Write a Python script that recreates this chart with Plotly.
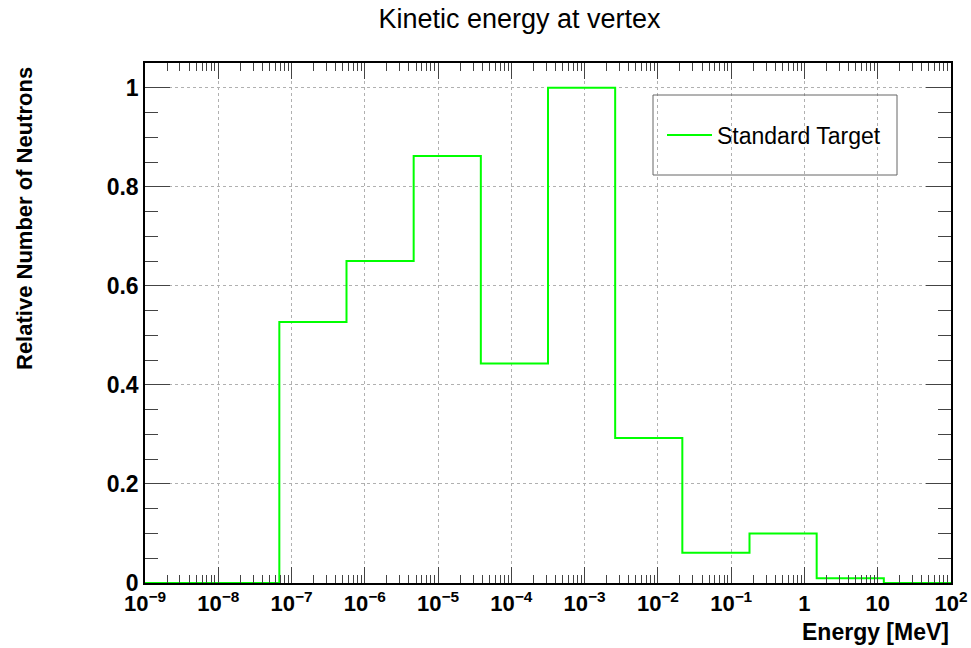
import numpy as np
import plotly.graph_objects as go

# Histogram: 12 logarithmic bins from 1e-9 to 1e2 MeV
bin_edges = np.logspace(-9, 2, 13)
rel_counts = [0.0, 0.0, 0.527, 0.650, 0.862, 0.443, 1.0, 0.293, 0.061, 0.100, 0.0095, 0.0]
series_name = "Standard Target"

x_tickvals = [1e-9, 1e-8, 1e-7, 1e-6, 1e-5, 1e-4, 1e-3, 1e-2, 1e-1, 1, 10, 100]
x_ticktext = ["10<sup>−9</sup>", "10<sup>−8</sup>", "10<sup>−7</sup>", "10<sup>−6</sup>",
              "10<sup>−5</sup>", "10<sup>−4</sup>", "10<sup>−3</sup>", "10<sup>−2</sup>",
              "10<sup>−1</sup>", "1", "10", "10<sup>2</sup>"]
y_tickvals = [0, 0.2, 0.4, 0.6, 0.8, 1.0]
y_ticktext = ["0", "0.2", "0.4", "0.6", "0.8", "1"]

FONT = "Liberation Sans, Arial, Helvetica, sans-serif"

fig = go.Figure()
fig.add_trace(go.Scatter(
    x=list(bin_edges), y=rel_counts + [rel_counts[-1]],
    mode="lines", line=dict(color="#00ff00", width=2, shape="hv"),
    name=series_name, showlegend=True,
))

fig.update_layout(
    width=971, height=648,
    margin=dict(l=145, r=20, t=63, b=65),
    paper_bgcolor="white", plot_bgcolor="white",
    font=dict(family=FONT, color="black"),
    title=dict(text="Kinetic energy at vertex", x=0.535, xanchor="center",
               y=0.972, yanchor="middle", font=dict(size=27, family=FONT)),
    showlegend=True,
    legend=dict(x=(662 - 145) / 806, y=(583 - 135) / 520, xanchor="left", yanchor="middle",
                bgcolor="rgba(0,0,0,0)", borderwidth=0, itemwidth=45,
                font=dict(size=23, family=FONT)),
)

fig.add_shape(type="rect", xref="paper", yref="paper",
              x0=(653 - 145) / 806, x1=(897 - 145) / 806,
              y0=(583 - 175) / 520, y1=(583 - 95) / 520,
              line=dict(color="#666666", width=1), fillcolor="rgba(0,0,0,0)", layer="above")

fig.update_xaxes(
    type="log", range=[-9, 2], automargin=False,
    tickvals=x_tickvals, ticktext=x_ticktext,
    tickfont=dict(size=22, family=FONT, weight="bold"),
    showline=True, linecolor="black", linewidth=1.5, mirror="allticks",
    ticks="inside", ticklen=16, tickcolor="#444444", tickwidth=1,
    showgrid=True, gridcolor="#b0b0b0", griddash="dot", gridwidth=1,
    zeroline=False,
    minor=dict(ticks="inside", ticklen=8, tickcolor="#444444", dtick="D1", showgrid=False),
)
fig.update_yaxes(
    range=[0, 1.05], automargin=False,
    tickvals=y_tickvals, ticktext=y_ticktext,
    tickfont=dict(size=23, family=FONT, weight="bold"),
    showline=True, linecolor="black", linewidth=1.5, mirror="allticks",
    ticks="inside", ticklen=25, tickcolor="#444444", tickwidth=1,
    showgrid=True, gridcolor="#b0b0b0", griddash="dot", gridwidth=1,
    zeroline=False,
    minor=dict(ticks="inside", ticklen=13, tickcolor="#444444", dtick=0.05, showgrid=False),
)

fig.add_annotation(text="<b>Relative Number of Neutrons</b>", xref="paper", yref="paper",
                   x=-(145 - 24) / 806, y=(583 - 219) / 520, textangle=-90,
                   showarrow=False, font=dict(size=22, family=FONT),
                   xanchor="center", yanchor="middle")
fig.add_annotation(text="<b>Energy [MeV]</b>", xref="paper", yref="paper",
                   x=1.0, y=-(632 - 583) / 520, showarrow=False,
                   font=dict(size=23, family=FONT), xanchor="right", yanchor="middle")

fig.write_html("out.html")
